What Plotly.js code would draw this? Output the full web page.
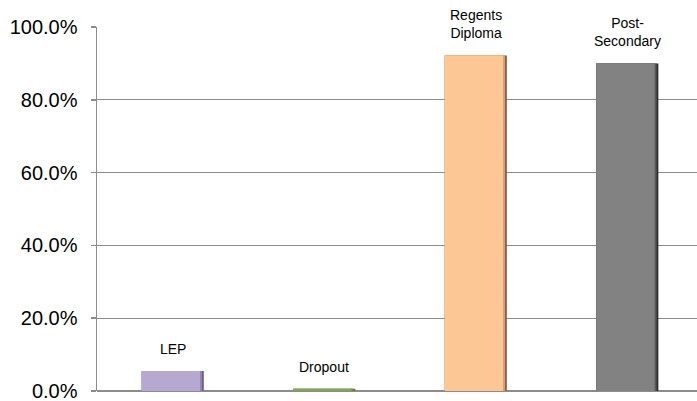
<!DOCTYPE html>
<html>
<head>
<meta charset="utf-8">
<script src="https://cdn.plot.ly/plotly-3.0.1.min.js"></script>
<style>html,body{margin:0;padding:0;background:#fff}#chart{width:697px;height:401px}</style>
</head>
<body>
<div id="chart"></div>
<script>
const categories = ["LEP", "Dropout", "Regents Diploma", "Post-Secondary"];
const labels = ["LEP", "Dropout", "Regents<br>Diploma", "Post-<br>Secondary"];
const values = [0.055, 0.006, 0.922, 0.900];
const colors = ["#b7a8d1", "#86a455", "#fdc795", "#828282"];
const midColors = ["#9484b0", "#6e8a42", "#d6a072", "#5a5a5a"];
const edgeColors = ["#6e5f88", "#5b7535", "#8a6040", "#2e2e2e"];
const tickVals = [0, 0.2, 0.4, 0.6, 0.8, 1.0];

function layer(w, fill) {
  return {
    type: "bar", x: categories, y: values,
    width: w, offset: -0.205,
    marker: { color: fill, line: { width: 0 } },
    hoverinfo: "none"
  };
}
const traces = [layer(0.41, edgeColors), layer(0.398, midColors), layer(0.385, colors)];

const annotations = categories.map((c, i) => ({
  x: c, y: values[i], xref: "x", yref: "y",
  text: labels[i], showarrow: false,
  yanchor: "bottom", yshift: 12,
  font: { family: "Liberation Sans, Arial, sans-serif", size: 14, color: "#000" }
}));

const layout = {
  width: 697, height: 401,
  margin: { l: 97, r: 0, t: 27, b: 10, pad: 0 },
  paper_bgcolor: "#fff", plot_bgcolor: "#fff",
  showlegend: false,
  barmode: "overlay",
  xaxis: {
    type: "category",
    range: [-0.5, 3.46],
    showticklabels: false, ticks: "",
    showgrid: false, zeroline: false,
    showline: false, fixedrange: true
  },
  yaxis: {
    range: [0, 1.0],
    tickvals: tickVals,
    tickformat: ".1%",
    ticks: "outside", ticklen: 5, tickcolor: "#8c8c8c", tickwidth: 1.5,
    ticklabelstandoff: 9,
    ticklabeloverflow: "allow",
    showgrid: true, gridcolor: "#8c8c8c", gridwidth: 1.3,
    showline: true, linecolor: "#8c8c8c", linewidth: 1.5,
    zeroline: true, zerolinecolor: "#8c8c8c", zerolinewidth: 1.5,
    tickfont: { family: "Liberation Sans, Arial, sans-serif", size: 20, color: "#000" },
    fixedrange: true
  },
  annotations: annotations
};

Plotly.newPlot("chart", traces, layout, { displayModeBar: false, staticPlot: true });
</script>
</body>
</html>
